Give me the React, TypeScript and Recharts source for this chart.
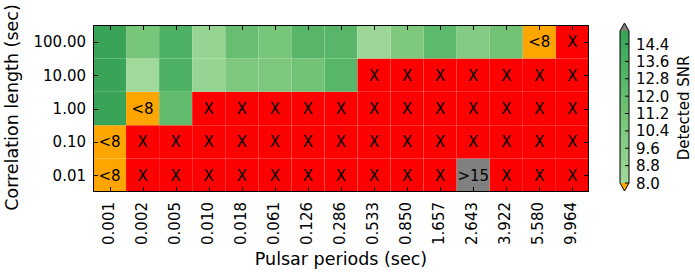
import { Bar, BarChart, Cell, LabelList, XAxis, YAxis } from "recharts"

const periods = ["0.001", "0.002", "0.005", "0.010", "0.018", "0.061", "0.126", "0.286", "0.533", "0.850", "1.657", "2.643", "3.922", "5.580", "9.964"]

// bottom to top
const corrLengths = ["0.01", "0.10", "1.00", "10.00", "100.00"]

const X = "X"
const snr001 = ["<8", X, X, X, X, X, X, X, X, X, X, ">15", X, X, X]
const snr010 = ["<8", X, X, X, X, X, X, X, X, X, X, X, X, X, X]
const snr1 = [14.8, "<8", 12.2, X, X, X, X, X, X, X, X, X, X, X, X]
const snr10 = [14.8, 8.0, 13.5, 8.8, 10.5, 10.5, 11.2, 12.8, X, X, X, X, X, X, X]
const snr100 = [14.8, 10.8, 13.5, 8.8, 11.8, 10.8, 12.8, 12.8, 8.3, 10.5, 12.5, 10.0, 11.3, "<8", X]

const rows = [snr001, snr010, snr1, snr10, snr100]

const cbarTicks = [8.0, 8.8, 9.6, 10.4, 11.2, 12.0, 12.8, 13.6, 14.4]

const data = periods.map((p) => {
    const d: any = { p }
    rows.forEach((r, j) => { d["r" + j] = 1 })
    return d
})

const stops: [number, string][] = [
    [8, "#a1d99b"],
    [11.1, "#74c476"],
    [14.2, "#41ab5d"],
    [15, "#37a055"],
]

const hex = (c: string) => [1, 3, 5].map(i => parseInt(c.slice(i, i + 2), 16))

function greens(v: number) {
    if (v <= stops[0][0]) return stops[0][1]
    for (let i = 1; i < stops.length; i++) {
        if (v <= stops[i][0]) {
            const t = (v - stops[i - 1][0]) / (stops[i][0] - stops[i - 1][0])
            const a = hex(stops[i - 1][1]), b = hex(stops[i][1])
            return `rgb(${a.map((x, k) => Math.round(x + (b[k] - x) * t)).join(",")})`
        }
    }
    return stops[stops.length - 1][1]
}

function cellColor(v: any) {
    if (v === "X") return "#ff0000"
    if (v === "<8") return "#ffa500"
    if (v === ">15") return "#808080"
    return greens(v)
}

const font = "'DejaVu Sans', sans-serif"
const W = 610, H = 272
const margin = { top: 25, right: 21, left: 0, bottom: 0 }
const plot = { x: 93, y: 25, w: 496, h: 167 }
const yTicks = [0.5, 1.5, 2.5, 3.5, 4.5]

const XTick = (props: any) => {
    const { x, y, payload } = props
    return (
        <text x={0} y={0} transform={`translate(${x + 4},${y}) rotate(-90)`} textAnchor="end" fontSize={15} fontFamily={font} fill="#000">
            {payload.value}
        </text>
    )
}

const YTick = (props: any) => {
    const { x, y, payload } = props
    return (
        <text x={x} y={y + 5.5} textAnchor="end" fontSize={15} fontFamily={font} fill="#000">
            {corrLengths[Math.round(payload.value - 0.5)]}
        </text>
    )
}

const cellLabel = (row: any[]) => (props: any) => {
    const { x, y, width, height, index } = props
    const v = row[index]
    if (typeof v === "number") return null
    return (
        <text x={x + width / 2} y={y + height / 2 + 5.5} textAnchor="middle" fontSize={15} fontFamily={font} fill="#000">
            {v}
        </text>
    )
}

function Overlay() {
    const top = 31, bot = 183, x0 = 620, w = 9
    const ys = (v: number) => bot - ((v - 8) / 7) * (bot - top)
    const cw = plot.w / periods.length
    const rh = plot.h / corrLengths.length
    return (
        <svg width={695} height={272} style={{ position: "absolute", left: 0, top: 0, pointerEvents: "none", zIndex: 2 }}>
            <defs>
                <linearGradient id="cb" x1="0" y1="1" x2="0" y2="0">
                    {stops.map(([v, c]) => (
                        <stop key={v} offset={(v - 8) / 7} stopColor={c} />
                    ))}
                </linearGradient>
            </defs>
            {/* heatmap frame with inward ticks */}
            <rect x={plot.x + 0.5} y={plot.y + 0.5} width={plot.w - 1} height={plot.h - 1} fill="none" stroke="#000" />
            {periods.map((p, i) => {
                const x = Math.round(plot.x + (i + 0.5) * cw) + 0.5
                return (
                    <g key={p}>
                        <line x1={x} x2={x} y1={plot.y} y2={plot.y + 5} stroke="#000" />
                        <line x1={x} x2={x} y1={plot.y + plot.h} y2={plot.y + plot.h - 5} stroke="#000" />
                    </g>
                )
            })}
            {corrLengths.map((c, j) => {
                const y = Math.round(plot.y + plot.h - (j + 0.5) * rh) + 0.5
                return (
                    <g key={c}>
                        <line x1={plot.x} x2={plot.x + 5} y1={y} y2={y} stroke="#000" />
                        <line x1={plot.x + plot.w} x2={plot.x + plot.w - 5} y1={y} y2={y} stroke="#000" />
                    </g>
                )
            })}
            {/* colorbar */}
            <rect x={x0} y={top} width={w} height={bot - top} fill="url(#cb)" />
            <polygon points={`${x0},${top} ${x0 + w / 2},${top - 8} ${x0 + w},${top}`} fill="#808080" />
            <polygon points={`${x0},${bot} ${x0 + w / 2},${bot + 8} ${x0 + w},${bot}`} fill="#ffa500" />
            <polygon
                points={`${x0},${top} ${x0 + w / 2},${top - 8} ${x0 + w},${top} ${x0 + w},${bot} ${x0 + w / 2},${bot + 8} ${x0},${bot}`}
                fill="none"
                stroke="#000"
                strokeWidth={1}
            />
            {cbarTicks.map(t => (
                <g key={t}>
                    <line x1={x0 + w} x2={x0 + w - 4} y1={ys(t)} y2={ys(t)} stroke="#000" />
                    <text x={x0 + w + 7} y={ys(t) + 5.5} fontSize={15} fontFamily={font} fill="#000">
                        {t.toFixed(1)}
                    </text>
                </g>
            ))}
            <text transform={`translate(${689},${108}) rotate(-90)`} textAnchor="middle" fontSize={15} fontFamily={font} fill="#000">
                Detected SNR
            </text>
        </svg>
    )
}

export default function App() {
    return (
        <div style={{ position: "absolute", left: 0, top: 0, width: 695, height: 272 }}>
            {/* cells */}
            <div style={{ position: "absolute", left: 0, top: 0, zIndex: 0 }}>
                <BarChart width={W} height={H} data={data} margin={margin} barCategoryGap={0}>
                    {rows.map((row, j) => (
                        <Bar key={j} dataKey={"r" + j} stackId="a" isAnimationActive={false}>
                            {row.map((v, i) => (
                                <Cell key={i} fill={cellColor(v)} />
                            ))}
                            <LabelList dataKey={"r" + j} content={cellLabel(row)} />
                        </Bar>
                    ))}
                    <XAxis dataKey="p" height={80} tick={false} tickLine={false} axisLine={false} />
                    <YAxis type="number" domain={[0, 5]} ticks={yTicks} width={93} tick={false} tickLine={false} axisLine={false} />
                </BarChart>
            </div>
            {/* tick labels and axis titles */}
            <div style={{ position: "absolute", left: 0, top: 0, zIndex: 1 }}>
                <BarChart width={W} height={H} data={data} margin={margin} barCategoryGap={0}>
                    <Bar dataKey="r4" fill="none" isAnimationActive={false} />
                    <XAxis
                        dataKey="p"
                        height={80}
                        interval={0}
                        tick={<XTick />}
                        tickSize={-5}
                        tickMargin={15}
                        tickLine={false}
                        axisLine={false}
                        label={{
                            content: (p: any) => {
                                const vb = p.viewBox
                                return (
                                    <text x={vb.x + vb.width / 2} y={vb.y + vb.height - 7.5} textAnchor="middle" fontSize={17.5} fontFamily={font} fill="#000">
                                        Pulsar periods (sec)
                                    </text>
                                )
                            },
                        }}
                    />
                    <YAxis
                        type="number"
                        domain={[0, 5]}
                        ticks={yTicks}
                        width={93}
                        tick={<YTick />}
                        tickSize={-5}
                        tickMargin={12}
                        tickLine={false}
                        axisLine={false}
                        label={{
                            content: (p: any) => {
                                const vb = p.viewBox
                                return (
                                    <text transform={`translate(${18},${vb.y + vb.height / 2 - 1}) rotate(-90)`} textAnchor="middle" fontSize={17.5} fontFamily={font} fill="#000">
                                        Correlation length (sec)
                                    </text>
                                )
                            },
                        }}
                    />
                </BarChart>
            </div>
            <Overlay />
        </div>
    )
}
